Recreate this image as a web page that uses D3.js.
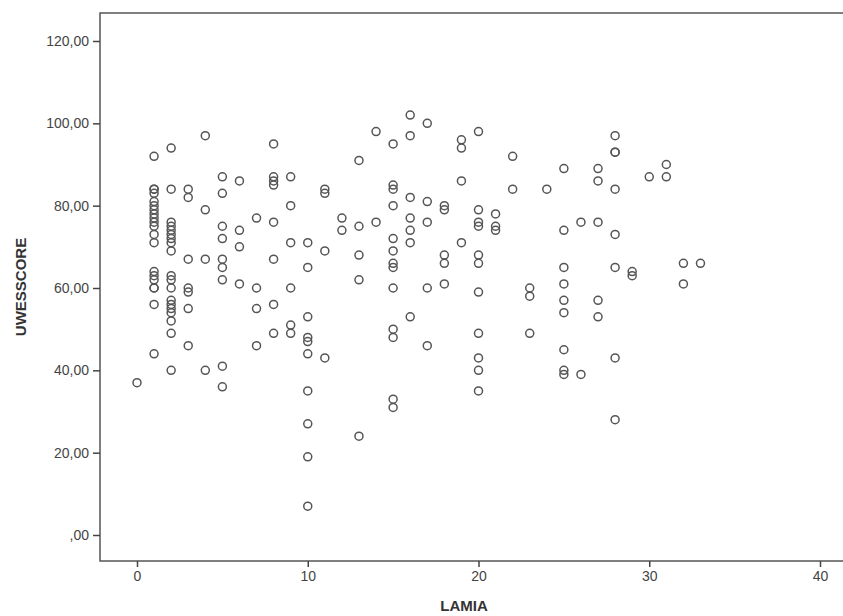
<html>
<meta http-equiv="content-type" content="text/html; charset=UTF8">
<style>
  body {margin:0; background:#fff;}
  text {font-family: Arial, "Liberation Sans", sans-serif;}
</style>
<body>
<svg id="svg1" width="843" height="616"></svg>

<script src="https://cdn.jsdelivr.net/npm/d3@7/dist/d3.min.js"></script>
<script>
// LAMIA value for each column of points, and the UWESSCORE values found at it
var lamiaValues=[0,1,2,3,4,5,6,7,8,9,10,11,12,13,14,15,16,17,18,19,20,21,22,23,24,25,26,27,28,29,30,31,32,33];
var uwesByLamia=[
  [37],
  [92,84,84,83,81,80,79,78,77,76,75,73,71,64,63,62,60,60,56,44],
  [94,84,76,75,74,73,72,71,69,63,62,60,57,56,55,54,52,49,40],
  [84,82,67,60,59,55,46],
  [97,79,67,40],
  [87,83,75,72,67,65,62,41,36],
  [86,74,70,61],
  [77,60,55,46],
  [95,87,86,85,76,67,56,49],
  [87,80,71,60,51,49],
  [71,65,53,48,47,44,35,27,19,7],
  [84,83,69,43],
  [77,74],
  [91,75,68,62,24],
  [98,76],
  [95,85,84,80,72,69,66,65,60,50,48,33,31],
  [102,97,82,77,74,71,53],
  [100,81,76,60,46],
  [80,79,68,66,61],
  [96,94,86,71],
  [98,79,76,75,68,66,59,49,43,40,35],
  [78,75,74],
  [92,84],
  [60,58,49],
  [84],
  [89,74,65,61,57,54,45,40,39],
  [76,39],
  [89,86,76,57,53],
  [97,93,93,84,73,65,43,28],
  [64,63],
  [87],
  [90,87],
  [66,61],
  [66]
];
var xTicks=[0,10,20,30,40];
var yTicks=[0,20,40,60,80,100,120];

var data=[];
for (var i=0;i<lamiaValues.length;i++) {
	uwesByLamia[i].forEach(function(v){ data.push({lamia:lamiaValues[i], uwes:v}); });
}

var svg=d3.select("#svg1");
var box={left:100, top:13, right:845, bottom:561};

var x=d3.scaleLinear().domain([0,40]).range([137,820]);
var y=d3.scaleLinear().domain([0,120]).range([535,41]);

var fmt=function(v){
	var s=d3.format(".2f")(v).replace(".",",");
	return v==0 ? s.substring(1) : s;
};

// frame
svg.append("rect")
    .attr("x",box.left).attr("y",box.top)
    .attr("width",box.right-box.left).attr("height",box.bottom-box.top)
    .style("fill","#fff").style("stroke","#555").style("stroke-width",1.5);

var gy=svg.append("g").attr("transform","translate("+box.left+",0)")
    .call(d3.axisLeft(y).tickValues(yTicks).tickFormat(fmt).tickSize(7).tickPadding(4));
var gx=svg.append("g").attr("transform","translate(0,"+box.bottom+")")
    .call(d3.axisBottom(x).tickValues(xTicks).tickFormat(d3.format("d")).tickSize(6).tickPadding(4));

[gy,gx].forEach(function(g){
	g.select(".domain").remove();
	g.selectAll("line").style("stroke","#444").style("stroke-width",1.5);
	g.selectAll("text").style("font-size","14px").style("fill","#444")
	  .style("font-family","Arial, 'Liberation Sans', sans-serif");
});

svg.selectAll("circle.pt").data(data).enter().append("circle")
    .attr("class","pt")
    .attr("cx",function(d){return x(d.lamia)})
    .attr("cy",function(d){return y(d.uwes)})
    .attr("r",4)
    .style("fill","none")
    .style("stroke","#555")
    .style("stroke-width",1.5);

svg.append("text").text("LAMIA")
    .attr("x",464).attr("y",611)
    .attr("text-anchor","middle")
    .style("font-weight","bold").style("font-size","15px").style("fill","#333");

svg.append("text").text("UWESSCORE")
    .attr("transform","translate(26,287) rotate(-90)")
    .attr("text-anchor","middle")
    .style("font-weight","bold").style("font-size","15px").style("fill","#333");
</script>
</html>
